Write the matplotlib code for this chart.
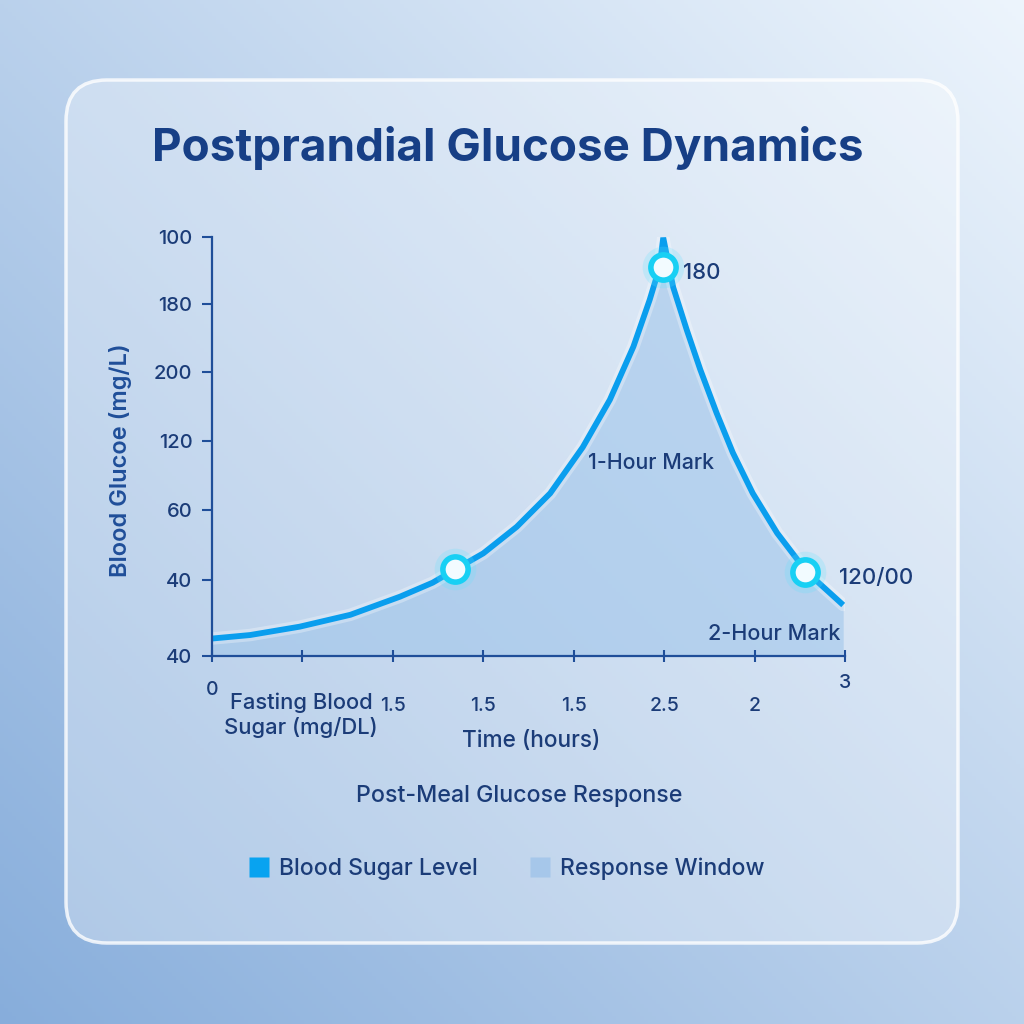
import numpy as np
import matplotlib
matplotlib.use('Agg')
import matplotlib.pyplot as plt
from matplotlib.patches import FancyBboxPatch
from matplotlib.lines import Line2D

plt.rcParams['font.family'] = ['Inter', 'DejaVu Sans']
plt.rcParams['font.weight'] = 'medium'

# data (x in tick steps, y in tick steps)
time_x = [0.00, 0.42, 0.97, 1.53, 2.08, 2.44, 2.69, 3.00, 3.37, 3.74, 4.10,
          4.40, 4.66, 4.84, 4.95, 4.99, 5.10, 5.25, 5.40, 5.58, 5.76, 5.98,
          6.25, 6.58, 6.98]
glucose_y = [0.25, 0.30, 0.42, 0.59, 0.85, 1.05, 1.24, 1.47, 1.85, 2.33, 2.99,
             3.67, 4.43, 5.10, 5.57, 5.99, 5.28, 4.67, 4.10, 3.48, 2.91, 2.33,
             1.76, 1.20, 0.73]
marker_x = [2.69, 4.99, 6.56]
marker_y = [1.24, 5.57, 1.20]

y_ticks = [0, 1.09, 2.09, 3.08, 4.07, 5.04, 6.0]
y_tick_labels = ['40', '40', '60', '120', '200', '180', '100']
x_ticks = [0, 1, 2, 3, 4, 5, 6, 7]
x_tick_labels = ['0', '', '1.5', '1.5', '1.5', '2.5', '2', '3']
x_label_drop = [34, 0, 50, 50, 50, 50, 50, 27]  # pixels below axis

navy = '#1b3c78'
line_blue = '#0a9eee'
fill_blue = '#9dc4ea'

fig = plt.figure(figsize=(10.24, 10.24), dpi=100)

# background gradient, light in the top right, darker in the bottom left
bg = fig.add_axes([0, 0, 1, 1])
yy, xx = np.mgrid[0:1:256j, 0:1:256j]
t = xx * 0.5 + yy * 0.5
c0 = np.array([0.53, 0.68, 0.86])
c1 = np.array([0.93, 0.96, 0.99])
img = c0[None, None, :] * (1 - t[..., None]) + c1[None, None, :] * t[..., None]
bg.imshow(img, extent=[0, 1, 0, 1], origin='lower', aspect='auto')
bg.set_xlim(0, 1)
bg.set_ylim(0, 1)
bg.axis('off')

# card
card_xy = (66 / 1024, 1 - 943 / 1024)
card_w, card_h = (958 - 66) / 1024, (943 - 80) / 1024
bg.add_patch(FancyBboxPatch(card_xy, card_w, card_h,
                            boxstyle='round,pad=0,rounding_size=0.04',
                            transform=fig.transFigure, facecolor='white', alpha=0.3,
                            edgecolor='none'))
bg.add_patch(FancyBboxPatch(card_xy, card_w, card_h,
                            boxstyle='round,pad=0,rounding_size=0.04',
                            transform=fig.transFigure, facecolor='none',
                            edgecolor='white', alpha=0.8, linewidth=2.5))

fig.text(508 / 1024, 1 - 148 / 1024, 'Postprandial Glucose Dynamics',
         ha='center', va='center', fontsize=33, fontweight='bold', color='#173f86')

ax = fig.add_axes([212 / 1024, 1 - 656 / 1024, 633 / 1024, 419 / 1024])
ax.patch.set_alpha(0)
ax.set_xlim(0, 7)
ax.set_ylim(0, 6)

ax.fill_between(time_x, glucose_y, 0, color=fill_blue, alpha=0.55, linewidth=0)
ax.plot(time_x, glucose_y, color='white', alpha=0.3, linewidth=9,
        solid_joinstyle='round', solid_capstyle='round')
ax.plot(time_x, glucose_y, color=line_blue, linewidth=4.2,
        solid_joinstyle='miter', solid_capstyle='butt')

# glow + markers
ax.scatter(marker_x, marker_y, s=900, color='#5fe3ff', alpha=0.22, linewidths=0, zorder=4)
ax.scatter(marker_x, marker_y, s=330, facecolor='#f2fbff', edgecolor='#18d0f4',
           linewidths=4, zorder=5)

for side in ['top', 'right']:
    ax.spines[side].set_visible(False)
for side in ['left', 'bottom']:
    ax.spines[side].set_color('#1f4e99')
    ax.spines[side].set_linewidth(1.6)

ax.set_yticks(y_ticks)
ax.set_yticklabels(y_tick_labels, fontsize=14.5, color=navy)
ax.tick_params(axis='y', length=7, width=1.5, color='#1f4e99', pad=7)
ax.set_xticks(x_ticks)
ax.set_xticklabels([])
ax.tick_params(axis='x', length=8, width=1.5, color='#1f4e99', direction='inout')

for xv, lab, drop in zip(x_ticks, x_tick_labels, x_label_drop):
    ax.annotate(lab, xy=(xv, 0), xytext=(0, -drop * 0.72), textcoords='offset points',
                ha='center', va='center', fontsize=14, color=navy)

fig.text(301 / 1024, 1 - 715 / 1024, 'Fasting Blood\nSugar (mg/DL)', ha='center', va='center',
         fontsize=15.8, color=navy, linespacing=1.22)
fig.text(531 / 1024, 1 - 741 / 1024, 'Time (hours)', ha='center', va='center',
         fontsize=16.3, color=navy)
fig.text(519 / 1024, 1 - 796 / 1024, 'Post-Meal Glucose Response', ha='center', va='center',
         fontsize=16.7, color=navy)
fig.text(120 / 1024, 1 - 460 / 1024, 'Blood Glucoe (mg/L)', ha='center', va='center',
         rotation=90, fontsize=17, color='#1f4e99', fontweight='semibold')

# annotations
ax.annotate('180', xy=(marker_x[1], marker_y[1]), xytext=(14, -4), textcoords='offset points',
            ha='left', va='center', fontsize=16, color=navy)
ax.annotate('120/00', xy=(marker_x[2], marker_y[2]), xytext=(24, -4), textcoords='offset points',
            ha='left', va='center', fontsize=16, color=navy)
ax.text(651 / 1024, 1 - 463 / 1024, '1-Hour Mark', transform=fig.transFigure,
        ha='center', va='center', fontsize=15.4, color=navy)
ax.text(774 / 1024, 1 - 634 / 1024, '2-Hour Mark', transform=fig.transFigure,
        ha='center', va='center', fontsize=15.6, color=navy)

# legend
handles = [Line2D([], [], marker='s', linestyle='none', markersize=15,
                  markerfacecolor='#08a3f0', markeredgecolor='none'),
           Line2D([], [], marker='s', linestyle='none', markersize=15,
                  markerfacecolor='#a6c7ea', markeredgecolor='none')]
fig.legend(handles, ['Blood Sugar Level', 'Response Window'], loc='center',
           bbox_to_anchor=(506 / 1024, 1 - 869 / 1024), ncol=2, frameon=False,
           fontsize=16.5, labelcolor=navy, handlelength=1.0, handletextpad=0.4,
           columnspacing=2.2)

fig.savefig('out.png', dpi=100)
